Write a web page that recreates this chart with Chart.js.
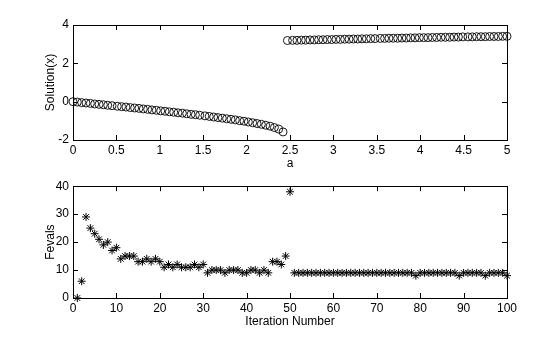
<!DOCTYPE html>
<html>
<head>
<meta charset="utf-8">
<script src="https://cdn.jsdelivr.net/npm/chart.js@4/dist/chart.umd.min.js"></script>
<style>
  html, body { margin: 0; padding: 0; background: #fff; }
  #wrap { position: relative; width: 560px; height: 337px; overflow: hidden; }
  .pane { position: absolute; left: 0; width: 560px; }
  #top-pane { top: 0; height: 175px; }
  #bottom-pane { top: 175px; height: 162px; }
</style>
</head>
<body>
<div id="wrap">
  <div class="pane" id="top-pane"><canvas id="solution-chart" width="560" height="175"></canvas></div>
  <div class="pane" id="bottom-pane"><canvas id="fevals-chart" width="560" height="162"></canvas></div>
</div>
<script>
// parameter a (x axis of the upper plot)
const aValues = [
    0.00, 0.05, 0.10, 0.15, 0.20, 0.25, 0.30, 0.35, 0.40, 0.45,
    0.51, 0.56, 0.61, 0.66, 0.71, 0.76, 0.81, 0.86, 0.91, 0.96,
    1.01, 1.06, 1.11, 1.16, 1.21, 1.26, 1.31, 1.36, 1.41, 1.46,
    1.52, 1.57, 1.62, 1.67, 1.72, 1.77, 1.82, 1.87, 1.92, 1.97,
    2.02, 2.07, 2.12, 2.17, 2.22, 2.27, 2.32, 2.37, 2.42, 2.47,
    2.53, 2.58, 2.63, 2.68, 2.73, 2.78, 2.83, 2.88, 2.93, 2.98,
    3.03, 3.08, 3.13, 3.18, 3.23, 3.28, 3.33, 3.38, 3.43, 3.48,
    3.54, 3.59, 3.64, 3.69, 3.74, 3.79, 3.84, 3.89, 3.94, 3.99,
    4.04, 4.09, 4.14, 4.19, 4.24, 4.29, 4.34, 4.39, 4.44, 4.49,
    4.55, 4.60, 4.65, 4.70, 4.75, 4.80, 4.85, 4.90, 4.95, 5.00
];

// solution x for each a
const solutionValues = [
    0.00, -0.02, -0.05, -0.07, -0.09, -0.12, -0.14, -0.16, -0.19, -0.21,
    -0.24, -0.26, -0.28, -0.31, -0.33, -0.35, -0.38, -0.40, -0.43, -0.45,
    -0.48, -0.50, -0.53, -0.55, -0.58, -0.60, -0.63, -0.66, -0.68, -0.71,
    -0.74, -0.77, -0.80, -0.83, -0.86, -0.89, -0.92, -0.95, -0.99, -1.02,
    -1.06, -1.10, -1.14, -1.18, -1.23, -1.28, -1.35, -1.43, -1.58, 3.19,
    3.20, 3.20, 3.21, 3.21, 3.22, 3.22, 3.23, 3.23, 3.24, 3.24,
    3.25, 3.25, 3.26, 3.26, 3.27, 3.27, 3.28, 3.28, 3.29, 3.29,
    3.30, 3.30, 3.31, 3.31, 3.31, 3.32, 3.32, 3.33, 3.33, 3.34,
    3.34, 3.34, 3.35, 3.35, 3.36, 3.36, 3.36, 3.37, 3.37, 3.38,
    3.38, 3.38, 3.39, 3.39, 3.39, 3.40, 3.40, 3.40, 3.41, 3.41
];

// function evaluations per iteration (iteration = index + 1)
const fevals = [
    0, 6, 29, 25, 23, 21, 19, 20, 17, 18,
    14, 15, 15, 15, 13, 13, 14, 13, 14, 13,
    11, 12, 11, 12, 11, 11, 11, 12, 11, 12,
    9, 10, 10, 10, 9, 10, 10, 10, 9, 9,
    10, 10, 9, 10, 9, 13, 13, 12, 15, 38,
    9, 9, 9, 9, 9, 9, 9, 9, 9, 9,
    9, 9, 9, 9, 9, 9, 9, 9, 9, 9,
    9, 9, 9, 9, 9, 9, 9, 9, 8, 9,
    9, 9, 9, 9, 9, 9, 9, 9, 8, 9,
    9, 9, 9, 9, 8, 9, 9, 9, 9, 8
];

const textFont = { family: '"Liberation Sans", Arial, sans-serif', size: 12 };

// MATLAB style box with inward tick marks
const matlabBox = {
    id: 'matlabBox',
    afterDatasetsDraw(chart) {
        const { ctx, chartArea } = chart;
        const xScale = chart.scales.x;
        const yScale = chart.scales.y;
        const len = 5;
        ctx.save();
        ctx.strokeStyle = '#000';
        ctx.lineWidth = 1;
        ctx.beginPath();
        xScale.ticks.forEach(function(t) {
            const px = Math.round(xScale.getPixelForValue(t.value)) + 0.5;
            ctx.moveTo(px, chartArea.bottom);
            ctx.lineTo(px, chartArea.bottom - len);
            ctx.moveTo(px, chartArea.top);
            ctx.lineTo(px, chartArea.top + len);
        });
        yScale.ticks.forEach(function(t) {
            const py = Math.round(yScale.getPixelForValue(t.value)) + 0.5;
            ctx.moveTo(chartArea.left, py);
            ctx.lineTo(chartArea.left + len, py);
            ctx.moveTo(chartArea.right, py);
            ctx.lineTo(chartArea.right - len, py);
        });
        ctx.stroke();
        ctx.strokeRect(Math.round(chartArea.left) + 0.5, Math.round(chartArea.top) + 0.5,
            Math.round(chartArea.right - chartArea.left), Math.round(chartArea.bottom - chartArea.top));
        ctx.restore();
    }
};

function plainLabel(value) {
    return String(value);
}

function buildScales(xOpts, yOpts, xHeight) {
    return {
        x: {
            type: 'linear',
            min: xOpts.min,
            max: xOpts.max,
            grid: { display: false, drawTicks: false },
            border: { display: false },
            ticks: { stepSize: xOpts.step, color: '#000', font: textFont, padding: 3, maxRotation: 0, callback: plainLabel },
            title: { display: true, text: xOpts.title, color: '#000', font: textFont, padding: { top: 0, bottom: xOpts.titlePad } },
            afterFit: function(scale) { scale.height = xHeight; }
        },
        y: {
            type: 'linear',
            min: yOpts.min,
            max: yOpts.max,
            grid: { display: false, drawTicks: false },
            border: { display: false },
            ticks: { stepSize: yOpts.step, color: '#000', font: textFont, padding: 4, callback: plainLabel },
            title: { display: true, text: yOpts.title, color: '#000', font: textFont, padding: { top: 43, bottom: 0 } },
            afterFit: function(scale) { scale.width = 73; }
        }
    };
}

const commonOptions = {
    responsive: false,
    animation: false,
    devicePixelRatio: 1,
    plugins: { legend: { display: false }, tooltip: { enabled: false } }
};

new Chart(document.getElementById('solution-chart'), {
    type: 'scatter',
    data: {
        datasets: [{
            data: aValues.map((a, i) => ({ x: a, y: solutionValues[i] })),
            pointStyle: 'circle',
            pointRadius: 4,
            backgroundColor: 'rgba(0,0,0,0)',
            borderColor: '#000',
            borderWidth: 0.9,
            clip: false
        }]
    },
    options: Object.assign({}, commonOptions, {
        layout: { padding: { top: 25, right: 53, left: 0, bottom: 0 } },
        scales: buildScales(
            { min: 0, max: 5, step: 0.5, title: 'a', titlePad: 4 },
            { min: -2, max: 4, step: 2, title: 'Solution(x)' },
            35
        )
    }),
    plugins: [matlabBox]
});

new Chart(document.getElementById('fevals-chart'), {
    type: 'scatter',
    data: {
        datasets: [{
            data: fevals.map((f, i) => ({ x: i + 1, y: f })),
            pointStyle: 'star',
            pointRadius: 4,
            borderColor: '#000',
            backgroundColor: '#000',
            borderWidth: 1,
            clip: false
        }]
    },
    options: Object.assign({}, commonOptions, {
        layout: { padding: { top: 10, right: 53, left: 0, bottom: 0 } },
        scales: buildScales(
            { min: 0, max: 100, step: 10, title: 'Iteration Number', titlePad: 8 },
            { min: 0, max: 40, step: 10, title: 'Fevals' },
            39
        )
    }),
    plugins: [matlabBox]
});
</script>
</body>
</html>
